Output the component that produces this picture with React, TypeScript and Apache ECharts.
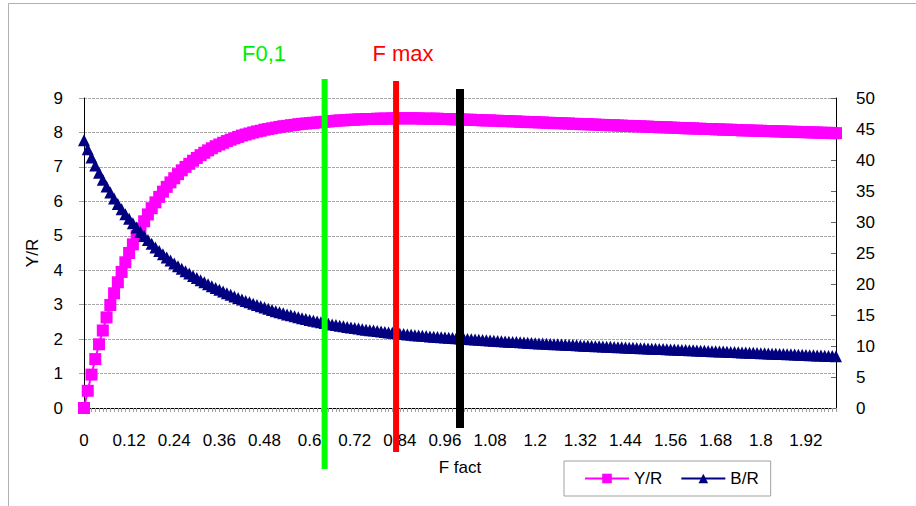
import React, { useEffect, useRef } from "react";
import * as echarts from "echarts";

// F grid (x categories): 0 .. 2.00 step 0.01
const F_COUNT = 201;
const F_VALUES: number[] = Array.from({ length: F_COUNT }, (_, i) => i / 100);
const CATEGORIES: string[] = F_VALUES.map((v) => String(v));

// Y/R (left axis)
const YR: number[] = [
  0, 0.5, 0.97, 1.42, 1.85, 2.25, 2.63, 2.99, 3.33, 3.65,
  3.95, 4.23, 4.5, 4.75, 4.99, 5.21, 5.42, 5.62, 5.8, 5.97,
  6.13, 6.28, 6.42, 6.55, 6.67, 6.79, 6.9, 7.0, 7.09, 7.18,
  7.26, 7.34, 7.41, 7.48, 7.54, 7.6, 7.65, 7.7, 7.75, 7.79,
  7.83, 7.87, 7.91, 7.94, 7.97, 8.0, 8.03, 8.05, 8.08, 8.1,
  8.12, 8.14, 8.16, 8.18, 8.19, 8.21, 8.22, 8.24, 8.25, 8.26,
  8.27, 8.28, 8.29, 8.3, 8.31, 8.32, 8.33, 8.34, 8.35, 8.35,
  8.36, 8.37, 8.37, 8.38, 8.38, 8.39, 8.39, 8.39, 8.4, 8.4,
  8.4, 8.4, 8.41, 8.41, 8.41, 8.41, 8.41, 8.41, 8.41, 8.41,
  8.4, 8.4, 8.4, 8.4, 8.4, 8.39, 8.39, 8.39, 8.38, 8.38,
  8.38, 8.37, 8.37, 8.37, 8.36, 8.36, 8.35, 8.35, 8.35, 8.34,
  8.34, 8.33, 8.33, 8.33, 8.32, 8.32, 8.31, 8.31, 8.3, 8.3,
  8.3, 8.29, 8.29, 8.28, 8.28, 8.27, 8.27, 8.27, 8.26, 8.26,
  8.25, 8.25, 8.24, 8.24, 8.24, 8.23, 8.23, 8.22, 8.22, 8.21,
  8.21, 8.21, 8.2, 8.2, 8.19, 8.19, 8.18, 8.18, 8.18, 8.17,
  8.17, 8.16, 8.16, 8.15, 8.15, 8.15, 8.14, 8.14, 8.13, 8.13,
  8.12, 8.12, 8.12, 8.11, 8.11, 8.1, 8.1, 8.1, 8.09, 8.09,
  8.08, 8.08, 8.08, 8.07, 8.07, 8.06, 8.06, 8.06, 8.05, 8.05,
  8.05, 8.04, 8.04, 8.04, 8.03, 8.03, 8.03, 8.02, 8.02, 8.02,
  8.01, 8.01, 8.01, 8.0, 8.0, 8.0, 7.99, 7.99, 7.99, 7.98,
  7.98,
];

// B/R (right axis)
const BR: number[] = [
  43.2, 41.75, 40.4, 39.13, 37.93, 36.8, 35.74, 34.74, 33.8, 32.91,
  32.07, 31.27, 30.51, 29.79, 29.1, 28.4, 27.73, 27.09, 26.48, 25.9,
  25.34, 24.8, 24.28, 23.78, 23.32, 22.88, 22.46, 22.06, 21.68, 21.31,
  20.95, 20.61, 20.28, 19.96, 19.65, 19.35, 19.06, 18.78, 18.51, 18.25,
  18.0, 17.75, 17.51, 17.27, 17.04, 16.82, 16.61, 16.4, 16.19, 15.99,
  15.8, 15.62, 15.44, 15.27, 15.1, 14.94, 14.78, 14.63, 14.48, 14.34,
  14.2, 14.07, 13.94, 13.82, 13.7, 13.59, 13.48, 13.38, 13.28, 13.18,
  13.08, 12.99, 12.9, 12.81, 12.72, 12.64, 12.56, 12.48, 12.4, 12.33,
  12.26, 12.19, 12.12, 12.05, 11.99, 11.93, 11.87, 11.81, 11.75, 11.7,
  11.65, 11.6, 11.55, 11.5, 11.45, 11.4, 11.36, 11.32, 11.28, 11.24,
  11.2, 11.16, 11.12, 11.08, 11.04, 11.0, 10.96, 10.92, 10.88, 10.84,
  10.81, 10.77, 10.73, 10.7, 10.66, 10.63, 10.59, 10.56, 10.52, 10.49,
  10.46, 10.42, 10.39, 10.36, 10.33, 10.3, 10.27, 10.24, 10.21, 10.18,
  10.15, 10.12, 10.09, 10.06, 10.03, 10.0, 9.97, 9.94, 9.92, 9.89,
  9.86, 9.83, 9.81, 9.78, 9.75, 9.73, 9.7, 9.68, 9.65, 9.62,
  9.6, 9.57, 9.55, 9.52, 9.5, 9.47, 9.45, 9.42, 9.4, 9.37,
  9.35, 9.32, 9.3, 9.27, 9.25, 9.22, 9.2, 9.17, 9.15, 9.12,
  9.1, 9.07, 9.05, 9.02, 9.0, 8.97, 8.95, 8.92, 8.9, 8.87,
  8.85, 8.82, 8.8, 8.77, 8.75, 8.72, 8.7, 8.67, 8.65, 8.62,
  8.6, 8.57, 8.55, 8.52, 8.5, 8.47, 8.45, 8.42, 8.4, 8.37,
  8.35,
];

// Reference markers (vertical bars): F position, top and bottom in Y/R units
const MARK_F: number[] = [0.64, 0.83, 0.995];
const MARK_TOP: number[] = [9.55, 9.49, 9.26];
const MARK_BOTTOM: number[] = [-1.77, -1.28, -0.58];
const MARK_COLORS: string[] = ["#00ff00", "#ff0000", "#000000"];
const MARK_WIDTHS: number[] = [6, 6, 8];

const FONT = "'Liberation Sans', Arial, sans-serif";

export default function App() {
  const ref = useRef<HTMLDivElement>(null);

  useEffect(() => {
    if (!ref.current) return;
    const chart = echarts.init(ref.current, undefined, { renderer: "svg" });
    const markData = MARK_F.map((f, i) => [Math.round(f * 1000) / 10, MARK_TOP[i], MARK_BOTTOM[i], i]);

    const option: any = {
      animation: false,
      backgroundColor: "#ffffff",
      textStyle: { fontFamily: FONT },
      grid: { left: 84, right: 80, top: 98, bottom: 98, containLabel: false },
      legend: {
        data: ["Y/R", "B/R"],
        left: 564,
        top: 461,
        orient: "horizontal",
        itemWidth: 44,
        itemHeight: 12,
        itemGap: 18,
        padding: [9, 12, 9, 20],
        borderColor: "#a0a0a0",
        borderWidth: 1,
        textStyle: { fontFamily: FONT, fontSize: 17, color: "#000" },
      },
      graphic: [
        {
          type: "rect",
          silent: true,
          shape: { x: 8.5, y: 3.5, width: 1000, height: 1000 },
          style: { fill: "none", stroke: "#b0b0b0", lineWidth: 1 },
          z: -10,
        },
        {
          type: "text",
          x: 264,
          y: 53,
          style: {
            text: "F0,1",
            fill: "#00ee00",
            font: `22px ${FONT}`,
            textAlign: "center",
            textVerticalAlign: "middle",
          },
        },
        {
          type: "text",
          x: 403,
          y: 53,
          style: {
            text: "F max",
            fill: "#ff0000",
            font: `22px ${FONT}`,
            textAlign: "center",
            textVerticalAlign: "middle",
          },
        },
      ],
      xAxis: {
        type: "category",
        data: CATEGORIES,
        boundaryGap: false,
        name: "F fact",
        nameLocation: "middle",
        nameGap: 51,
        nameTextStyle: { fontFamily: FONT, fontSize: 17, color: "#000" },
        axisLine: { show: true, lineStyle: { color: "#000", width: 1 } },
        axisTick: { show: true, interval: 0, length: 4, lineStyle: { color: "#a0a0a0" } },
        axisLabel: {
          interval: 11,
          margin: 24,
          fontFamily: FONT,
          fontSize: 17,
          color: "#000",
        },
        splitLine: { show: false },
      },
      yAxis: [
        {
          type: "value",
          min: 0,
          max: 9,
          interval: 1,
          name: "Y/R",
          nameLocation: "middle",
          nameGap: 43,
          nameTextStyle: { fontFamily: FONT, fontSize: 17, color: "#000" },
          axisLine: { show: true, lineStyle: { color: "#000", width: 1 } },
          axisTick: { show: true, length: 5, lineStyle: { color: "#a0a0a0" } },
          axisLabel: { margin: 21, fontFamily: FONT, fontSize: 17, color: "#000" },
          splitLine: { show: true, lineStyle: { color: "#a8a8a8", width: 1, type: [3, 1] } },
        },
        {
          type: "value",
          min: 0,
          max: 50,
          interval: 5,
          position: "right",
          axisLine: { show: true, lineStyle: { color: "#000", width: 1 } },
          axisTick: { show: true, inside: true, length: 5, lineStyle: { color: "#666" } },
          axisLabel: { margin: 20, fontFamily: FONT, fontSize: 17, color: "#000" },
          splitLine: { show: false },
        },
      ],
      series: [
        {
          name: "Y/R",
          type: "line",
          yAxisIndex: 0,
          data: YR,
          symbol: "rect",
          symbolSize: 12,
          showAllSymbol: true,
          color: "#ff00ff",
          lineStyle: { color: "#ff00ff", width: 2 },
          itemStyle: { color: "#ff00ff" },
          clip: false,
          z: 2,
        },
        {
          name: "B/R",
          type: "line",
          yAxisIndex: 1,
          data: BR,
          symbol: "triangle",
          symbolSize: 12,
          showAllSymbol: true,
          color: "#000080",
          lineStyle: { color: "#000080", width: 2 },
          itemStyle: { color: "#000080" },
          clip: false,
          z: 3,
        },
        {
          name: "marks",
          type: "custom",
          xAxisIndex: 0,
          yAxisIndex: 0,
          data: markData,
          encode: { x: 0, y: 1 },
          clip: false,
          z: 5,
          silent: true,
          renderItem: (params: any, api: any) => {
            const idx = api.value(3);
            const top = api.coord([api.value(0), api.value(1)]);
            const bot = api.coord([api.value(0), api.value(2)]);
            const w = MARK_WIDTHS[idx];
            return {
              type: "rect",
              shape: { x: top[0] - w / 2, y: top[1], width: w, height: bot[1] - top[1] },
              style: { fill: MARK_COLORS[idx] },
            };
          },
        },
      ],
    };

    chart.setOption(option);
    return () => {
      chart.dispose();
    };
  }, []);

  return (
    <div
      ref={ref}
      style={{ position: "fixed", left: 0, top: 0, width: 916, height: 506 }}
    />
  );
}
